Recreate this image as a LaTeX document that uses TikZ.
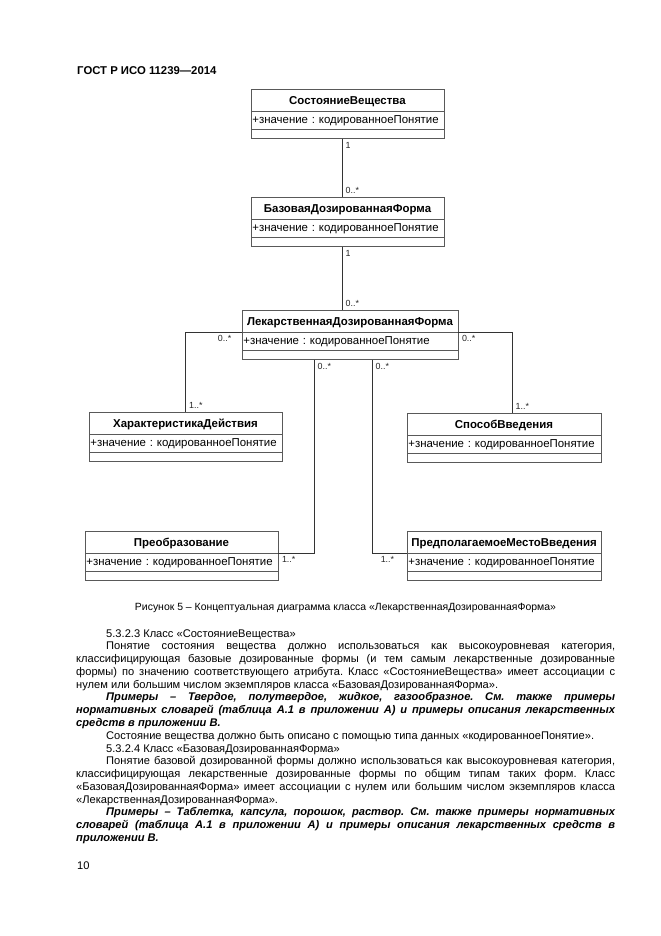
\documentclass[tikz,border=0pt]{standalone}
\usepackage{fontspec}
\setmainfont{Liberation Sans}
\usetikzlibrary{shapes.multipart}
\frenchspacing

\newcommand\umltitle[1]{\centering\rule[-5.4pt]{0pt}{18.9pt}\textbf{#1}\par}
\newcommand\umlattr[1]{\raggedright\rule[-5pt]{0pt}{16.2pt}#1\par}
\newcommand\umlempty{\rule{0pt}{7.2pt}}

\begin{document}
\begin{tikzpicture}[x=0.9pt, y=-0.9pt,
    umlclass/.style={rectangle split, rectangle split parts=3, draw=black!65, line width=0.6pt,
        inner xsep=1.2pt, inner ysep=0pt, anchor=north, font=\fontsize{10.3}{12}\selectfont},
    assoc/.style={draw=black!80, line width=0.6pt},
    mult/.style={font=\fontsize{8}{9}\selectfont, inner sep=3pt, text=black!85},
    pagetext/.style={inner sep=0pt, font=\fontsize{10}{11.5}\selectfont}]

\path[use as bounding box, fill=white] (0,0) rectangle (661,936);

\node[pagetext, anchor=base west, font=\bfseries\fontsize{10.2}{12}\selectfont] (head) at (77,74) {ГОСТ Р ИСО 11239—2014};

\node[umlclass, text width=171.3pt] (sost) at (347.5,89)
    {\umltitle{СостояниеВещества}\nodepart{two}\umlattr{+значение : кодированноеПонятие}\nodepart{three}\umlempty};
\node[umlclass, text width=171.3pt] (baz) at (347.5,197)
    {\umltitle{БазоваяДозированнаяФорма}\nodepart{two}\umlattr{+значение : кодированноеПонятие}\nodepart{three}\umlempty};
\node[umlclass, text width=192pt] (lek) at (350,310)
    {\umltitle{ЛекарственнаяДозированнаяФорма}\nodepart{two}\umlattr{+значение : кодированноеПонятие}\nodepart{three}\umlempty};
\node[umlclass, text width=171.3pt] (har) at (185.5,412)
    {\umltitle{ХарактеристикаДействия}\nodepart{two}\umlattr{+значение : кодированноеПонятие}\nodepart{three}\umlempty};
\node[umlclass, text width=172.2pt] (spos) at (504,413)
    {\umltitle{СпособВведения}\nodepart{two}\umlattr{+значение : кодированноеПонятие}\nodepart{three}\umlempty};
\node[umlclass, text width=171.3pt] (preob) at (181.5,531)
    {\umltitle{Преобразование}\nodepart{two}\umlattr{+значение : кодированноеПонятие}\nodepart{three}\umlempty};
\node[umlclass, text width=172.2pt] (mesto) at (504,531)
    {\umltitle{ПредполагаемоеМестоВведения}\nodepart{two}\umlattr{+значение : кодированноеПонятие}\nodepart{three}\umlempty};

\coordinate (axis) at (342,0);
\coordinate (lv) at (314,0);
\coordinate (rv) at (372,0);
\coordinate (rr) at (512,0);

\draw[assoc] (sost.south -| axis) node[mult, below right]{1} -- (baz.north -| axis) node[mult, above right]{0..*};
\draw[assoc] (baz.south -| axis) node[mult, below right]{1} -- (lek.north -| axis) node[mult, above right]{0..*};
\draw[assoc] (lek.text split west) node[mult, below left, xshift=-6pt]{0..*} -| (har.north) node[mult, above right]{1..*};
\draw[assoc] (lek.text split east) node[mult, below right]{0..*} -| (rr |- spos.north) node[mult, above right]{1..*};
\draw[assoc] (lek.south -| lv) node[mult, below right]{0..*} |- (preob.text split east) node[mult, below right]{1..*};
\draw[assoc] (lek.south -| rv) node[mult, below right]{0..*} |- (mesto.text split west) node[mult, below left, xshift=-8pt]{1..*};

\node[pagetext, anchor=base, font=\fontsize{9.4}{11}\selectfont] (caption) at (345.5,610)
    {Рисунок 5 – Концептуальная диаграмма класса «ЛекарственнаяДозированнаяФорма»};

\node[pagetext, anchor=base west, text width=485pt, align=justify] (body) at (76,637) {%
\setlength{\parindent}{27pt}\hyphenpenalty=10000 \tolerance=10000
\indent 5.3.2.3 Класс «СостояниеВещества»\par
Понятие состояния вещества должно использоваться как высокоуровневая категория,\linebreak
классифицирующая базовые дозированные формы (и тем самым лекарственные дозированные\linebreak
формы) по значению соответствующего атрибута. Класс «СостояниеВещества» имеет ассоциации с\linebreak
нулем или большим числом экземпляров класса «БазоваяДозированнаяФорма».\par
{\bfseries\itshape Примеры – Твердое, полутвердое, жидкое, газообразное. См. также примеры\linebreak
нормативных словарей (таблица А.1 в приложении А) и примеры описания лекарственных\linebreak
средств в приложении В.\par}
Состояние вещества должно быть описано с помощью типа данных «кодированноеПонятие».\par
5.3.2.4 Класс «БазоваяДозированнаяФорма»\par
Понятие базовой дозированной формы должно использоваться как высокоуровневая категория,\linebreak
классифицирующая лекарственные дозированные формы по общим типам таких форм. Класс\linebreak
«БазоваяДозированнаяФорма» имеет ассоциации с нулем или большим числом экземпляров класса\linebreak
«ЛекарственнаяДозированнаяФорма».\par
{\bfseries\itshape Примеры – Таблетка, капсула, порошок, раствор. См. также примеры нормативных\linebreak
словарей (таблица А.1 в приложении А) и примеры описания лекарственных средств в\linebreak
приложении В.\par}
};

\node[pagetext, anchor=base west] (pagenum) at (77,869) {10};
\end{tikzpicture}
\end{document}
